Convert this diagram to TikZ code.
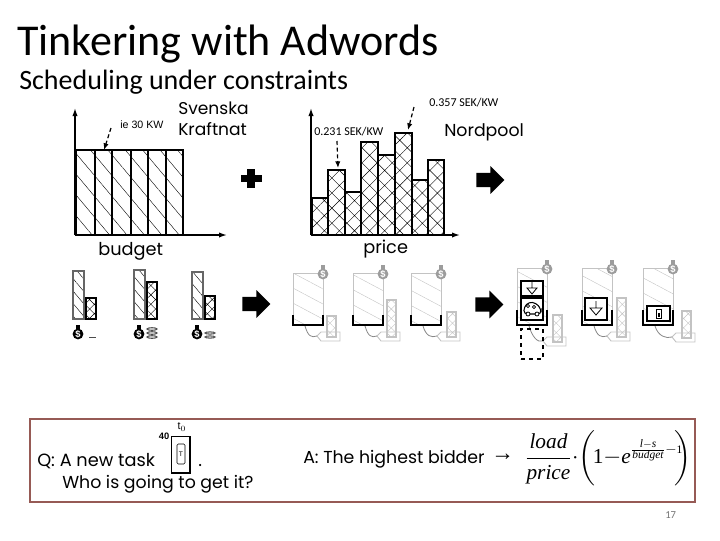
\documentclass[tikz,border=0pt]{standalone}
\usepackage{amsmath}
\usepackage{fontspec}
\setmainfont{Carlito}
\newfontfamily\gothic{Poppins}
\newfontfamily\arial{Liberation Sans}
\newfontfamily\timesit{Liberation Serif}
\usepackage{xcolor}
\definecolor{frame}{RGB}{150, 90, 85}
\definecolor{faint}{RGB}{195, 195, 195}
\usetikzlibrary{arrows.meta,shapes.arrows,patterns.meta}
\newcommand{\expword}[1]{\mbox{\fontsize{8.6}{9}\selectfont\itshape #1}}

\tikzset{
  txt/.style={anchor=base west, inner sep=0pt},
  moneybag/.pic={
    \fill (0,0) circle (5.4);
    \fill (-1.6,-9) rectangle (1.6,-4);
    \node[white, inner sep=0pt, font=\fontsize{7}{7}\bfseries\arial] (-bagsign) at (0,0) {\$};
  }
}

\begin{document}
\begin{tikzpicture}[x=0.75pt, y=-0.75pt,
  hatch/.style={pattern={Lines[angle=-50, distance=#1, line width=0.3pt]}},
  hatch/.default=10pt,
  crosshatch/.style={pattern={Hatch[angle=45, distance=#1, line width=0.3pt]}},
  crosshatch/.default=8pt,
  bar/.style={draw, line width=2.1pt},
  axis/.style={-{Latex[length=6pt, width=4pt]}, line width=1.1pt},
  callout/.style={-{Latex[length=5pt, width=4pt]}, line width=0.9pt, densely dashed},
  fatarrow/.style={single arrow, fill=black, inner xsep=0pt, inner ysep=5.2pt, minimum width=20.5pt, minimum height=21pt, single arrow head extend=5pt, single arrow tip angle=90, anchor=west},
  minibar/.style={draw, line width=1pt},
  slot/.style={draw=faint, line width=0.5pt, pattern color=faint},
  iconbox/.style={draw, line width=1.3pt, fill=white}
]
\useasboundingbox (0,0) rectangle (720,540);

% headings
\node[txt, font=\fontsize{33}{33}\selectfont] (title) at (17,55) {Tinkering with Adwords};
\node[txt, font=\fontsize{21}{21}\selectfont] (subtitle) at (19,89) {Scheduling under constraints};

% budget chart
\coordinate (budgetorigin) at (75,235);
\coordinate (budgettop) at (75,108);
\coordinate (budgetright) at (227,235);
\foreach \a/\b in {76/95, 95/112, 112/131, 131/148, 148/166, 166/183}
  \draw[bar, hatch] (\a,150) rectangle (\b,235);
\draw[axis] (budgetorigin) -- (budgettop);
\draw[axis] (budgetorigin) -- (budgetright);
\node[txt, font=\fontsize{8}{8}\arial] (ie) at (120,128) {ie 30 KW};
\node[txt, font=\fontsize{12.8}{13}\gothic] (svenska) at (178,114) {Svenska};
\node[txt, font=\fontsize{12.8}{13}\gothic] (kraftnat) at (178,135) {Kraftnat};
\node[txt, font=\fontsize{13.3}{14}\gothic] (budget) at (98,255) {budget};
\coordinate (iefrom) at (111,128);
\coordinate (ieto) at (104,150);
\draw[callout] (iefrom) -- (ieto);

% plus sign
\fill (247,169) rectangle (255,188);
\fill (241,175) rectangle (262,182);

% price chart
\coordinate (priceorigin) at (311,235);
\coordinate (pricetop) at (311,108);
\coordinate (priceright) at (460,235);
\foreach \a/\b/\h in {312/328/198, 328/345/170, 345/361/192, 361/378/142, 378/395/155, 395/412/133, 412/428/180, 428/444/160}
  \draw[bar, crosshatch] (\a,\h) rectangle (\b,235);
\draw[axis] (priceorigin) -- (pricetop);
\draw[axis] (priceorigin) -- (priceright);
\node[txt, font=\fontsize{9}{9}\selectfont] (lowprice) at (314,135) {0.231 SEK/KW};
\node[txt, font=\fontsize{9}{9}\selectfont] (highprice) at (429,106) {0.357 SEK/KW};
\node[txt, font=\fontsize{13}{13}\gothic] (nordpool) at (444,136) {Nordpool};
\node[txt, font=\fontsize{13.3}{14}\gothic] (price) at (363,253) {price};
\coordinate (lowfrom) at (337,141);
\coordinate (lowto) at (338,168);
\coordinate (highfrom) at (414,107);
\coordinate (highto) at (408,130);
\draw[callout] (lowfrom) -- (lowto);
\draw[callout] (highfrom) -- (highto);

\node[fatarrow] (toparrow) at (476,180) {};

% budget and price per bidder
\foreach \x/\t/\s in {73/271/298, 134/270/282, 192/272/296} {
  \draw[minibar, draw=black!60, hatch=6pt] (\x,\t) rectangle (\x+11,319);
  \draw[minibar, line width=1.3pt, crosshatch=5pt] (\x+13,\s) rectangle (\x+23,319);
  \pic at (\x+5,334) {moneybag};
}
\draw[line width=1pt, black!70] (89,337.5) -- (96,337.5);
\foreach \y in {329,333,337}
  \draw[line width=0.8pt, black!70] (152,\y) ellipse (5 and 1.3);
\foreach \y in {333,337}
  \draw[line width=0.8pt, black!70] (210,\y) ellipse (5 and 1.1);
\node[fatarrow] (midarrow) at (242,304) {};

% faded slots with brackets
\foreach \x/\t/\s/\w in {293/273/316/1, 353/273/300/1, 411/273/312/1, 517/268/315/2, 582/268/298/2, 643/268/311/2} {
  \pgfmathsetmacro{\sx}{\x+(\x==293)*34+(\x==353)*34+(\x==411)*36+(\x==517)*36+(\x==582)*35+(\x==643)*39}
  \pgfmathsetmacro{\ty}{337+(\x==517)*5+(\x==643)*1}
  \draw[slot, pattern={Lines[angle=-28, distance=10pt, line width=0.3pt]}] (\x,\t) rectangle (\x+30,325);
  \draw[slot, line width=1pt, pattern={Hatch[angle=45, distance=5pt, line width=0.3pt]}] (\sx,\s) rectangle (\sx+9,\ty);
  \draw[faint, line width=0.7pt] (\sx-10,\ty-1) -- (\sx-6,\ty-5) -- (\sx+13,\ty-5) -- (\sx+13,\ty+4) -- (\sx-6,\ty+4) -- cycle;
  \draw[faint!70!black, line width=0.6pt] (\x+12,326) .. controls (\x+15,336) and (\sx-16,\ty+1) .. (\sx-10,\ty-1);
  \draw[line width=\w pt] (\x,\t+42) -- (\x,325) -- (\x+30,325) -- (\x+30,\t+42);
  \pic[faint!80!black] at (\x+30,\t+1) {moneybag};
}
\node[fatarrow] (lastarrow) at (475,304.5) {};

% items placed into the slots
\node[iconbox, minimum width=16.5pt, minimum height=11pt, inner sep=0pt] (groundbox) at (532,288.5) {};
\draw[line width=0.6pt] (532,282) -- (532,288) (527,288) -- (537,288) -- (532,294) -- cycle;
\node[iconbox, minimum width=16.5pt, minimum height=16.5pt, inner sep=0pt] (carbox) at (532,309) {};
\draw[line width=0.8pt, rounded corners=2.5pt] (524,314) -- (524,307) -- (529,302) -- (536,303) -- (541,309) -- (541,314) -- cycle;
\draw[line width=0.5pt] (528,306) circle (1.6) (534,307) circle (1.6);
\fill[white, draw=black, line width=0.6pt] (528,314) circle (2) (537,314) circle (2);
\node[draw, dashed, line width=1.5pt, minimum width=16.5pt, minimum height=22.5pt, inner sep=0pt] (emptybox) at (532,344) {};
\node[iconbox, minimum width=16.5pt, minimum height=16.5pt, inner sep=0pt] (sinkbox) at (596,309) {};
\draw[line width=0.6pt] (596,301) -- (596,308) (590,308) -- (602,308) -- (596,315) -- cycle;
\node[iconbox, minimum width=17pt, minimum height=11pt, inner sep=0pt] (cellbox) at (658.5,313.5) {};
\draw[line width=0.7pt] (656,309) rectangle (661,318);
\fill (657.5,313) rectangle (659.5,317);

% question and answer
\node[draw=frame, line width=1.6pt, minimum width=498.5pt, minimum height=62.3pt, inner sep=0pt, anchor=north west] (qabox) at (29,418) {};
\node[txt, font=\fontsize{13.3}{14}\gothic] (question) at (37,466) {Q: A new task};
\node[draw, line width=1pt, minimum width=14pt, minimum height=27.5pt, inner sep=0pt] (task) at (180.5,454.5) {};
\node[draw, line width=0.4pt, rounded corners=1pt, minimum width=6pt, minimum height=15pt, inner sep=0pt, font=\fontsize{5}{5}\arial] (taskcell) at (181,454) {T};
\node[font=\fontsize{7}{7}\bfseries\arial, inner sep=0pt] (fortytag) at (164,436) {40};
\node[font=\fontsize{8}{8}\arial, inner sep=0pt] (tzero) at (182,427) {t$_0$};
\node[txt, font=\fontsize{13.3}{14}\gothic] (dot) at (198,466) {.};
\node[txt, font=\fontsize{13}{14}\gothic] (question2) at (62,488) {Who is going to get it?};
\node[txt, font=\fontsize{13}{14}\gothic] (answer) at (303,463) {A: The highest bidder};
\node[anchor=west, inner sep=0pt, font=\fontsize{17}{17}\bfseries\arial] (answerarrow) at (491,457) {→};
\node[anchor=center, inner sep=0pt, font=\fontsize{16}{16}\timesit] (formula) at (608,458) {%
  \thinmuskip=0mu\medmuskip=0mu$\dfrac{\text{\itshape load}}{\text{\itshape price}}\cdot\biggl(\mkern-2mu\text{1}-\text{\itshape e}^{\frac{\expword{l}-\expword{s}}{\expword{budget}}-\mbox{\fontsize{8.6}{9}\selectfont 1}}\mkern-7mu\biggr)$};

\node[txt, font=\fontsize{8}{8}\selectfont, text=black!55] (pagenum) at (665,518) {17};
\end{tikzpicture}
\end{document}
